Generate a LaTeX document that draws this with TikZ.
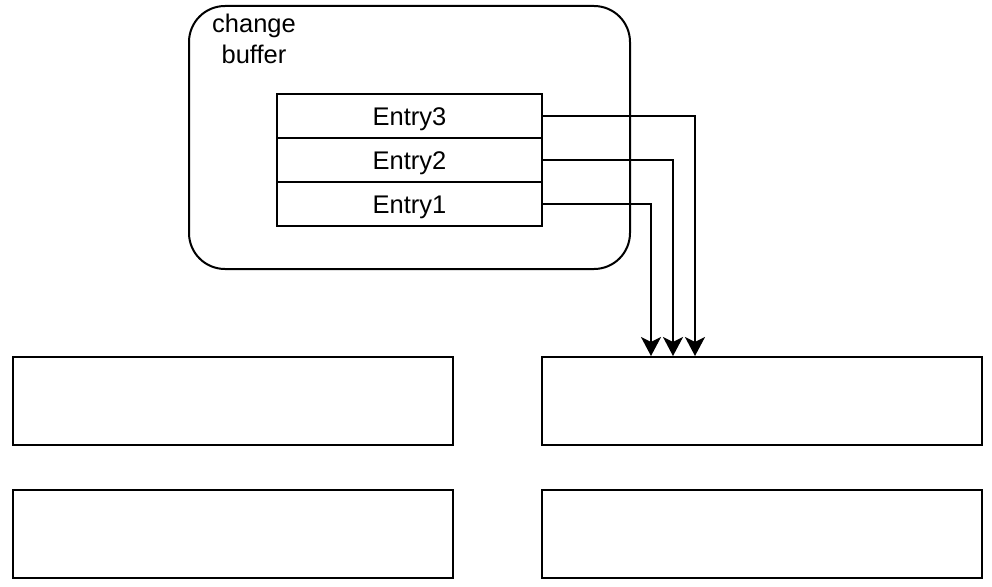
\documentclass[tikz,border=0pt]{standalone}
\usepackage{fontspec}
\setmainfont{Liberation Sans}
\usetikzlibrary{arrows.meta}
\begin{document}
\begin{tikzpicture}[x=1pt,y=-1pt,
  every node/.style={font=\fontsize{25.5}{31}\selectfont},
  entrybox/.style={draw, line width=2pt, minimum width=265pt, minimum height=44pt, inner sep=0pt, fill=white, text height=18pt, text depth=0pt},
  bigbox/.style={draw, line width=2pt, minimum width=440pt, minimum height=88pt, inner sep=0pt},
  container/.style={draw, line width=2pt, rounded corners=36pt, minimum width=441pt, minimum height=263pt, inner sep=0pt},
  arr/.style={line width=2pt, -{Stealth[length=19pt,width=20pt,inset=5pt]}}
]
\useasboundingbox (0,0) rectangle (992,586);
\node[container] (cb) at (409.5,137.5) {};
\node[anchor=north, inner sep=0pt, align=center] (lbl) at (254,13.5) {change\\buffer};
\node[entrybox] (e3) at (409.5,116) {Entry3};
\node[entrybox] (e2) at (409.5,160) {Entry2};
\node[entrybox] (e1) at (409.5,204) {Entry1};
\node[bigbox] (l1) at (233,401) {};
\node[bigbox] (r1) at (762,401) {};
\node[bigbox] (l2) at (233,533.5) {};
\node[bigbox] (r2) at (762,533.5) {};
\draw[arr] (e3.east) -| ([xshift=154pt]r1.north west);
\draw[arr] (e2.east) -| ([xshift=132pt]r1.north west);
\draw[arr] (e1.east) -| ([xshift=110pt]r1.north west);
\end{tikzpicture}
\end{document}
